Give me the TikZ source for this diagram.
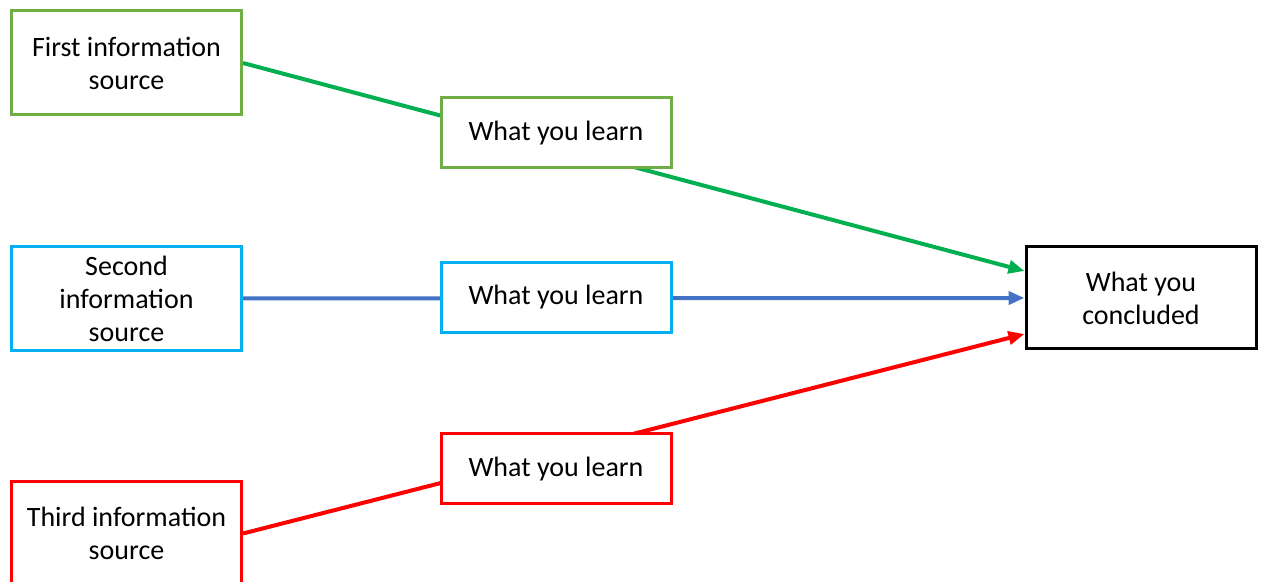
\documentclass[tikz,border=0pt]{standalone}
\usepackage{fontspec}
\setmainfont{Carlito}
\usetikzlibrary{arrows.meta}
\usetikzlibrary{positioning}

\definecolor{boxgreen}{HTML}{70AD47}
\definecolor{linegreen}{HTML}{00B050}
\definecolor{boxblue}{HTML}{00B0F0}
\definecolor{lineblue}{HTML}{4472C4}
\definecolor{boxred}{HTML}{FF0000}

\begin{document}
\begin{tikzpicture}[x=0.5pt, y=-0.5pt, >={Triangle[length=8pt,width=6.5pt]},
    box/.style={draw, line width=1.5pt, fill=white, align=center, inner sep=0pt,
      font=\fontsize{14}{16.5}\selectfont},
    source/.style={box, minimum width=115pt, minimum height=52pt},
    learn/.style={box, minimum width=115pt, minimum height=35pt},
    link/.style={line width=2pt}]
  \useasboundingbox (0,0) rectangle (1264,582);

  \node[source, draw=boxgreen] (first) at (126.5, 63) {First information\\source};
  \node[source, draw=boxblue] (second) at (126.5, 298.5) {Second\\information\\source};
  \node[source, draw=boxred] (third) at (126.5, 533.5) {Third information\\source};
  \node[box, minimum width=115pt, minimum height=51pt] (concluded) at (1141, 298) {What you\\concluded};

  \draw[link, linegreen, ->] (first.east) -- ([yshift=13.5pt]concluded.west);
  \draw[link, lineblue, ->] (second.east) -- (concluded.west);
  \draw[link, boxred, ->] (third.east) -- ([yshift=-18pt]concluded.west);

  \node[learn, draw=boxgreen] (learn1) at (556, 133) {What you learn};
  \node[learn, draw=boxblue] (learn2) at (556, 297.5) {What you learn};
  \node[learn, draw=boxred] (learn3) at (556, 469) {What you learn};
\end{tikzpicture}
\end{document}
